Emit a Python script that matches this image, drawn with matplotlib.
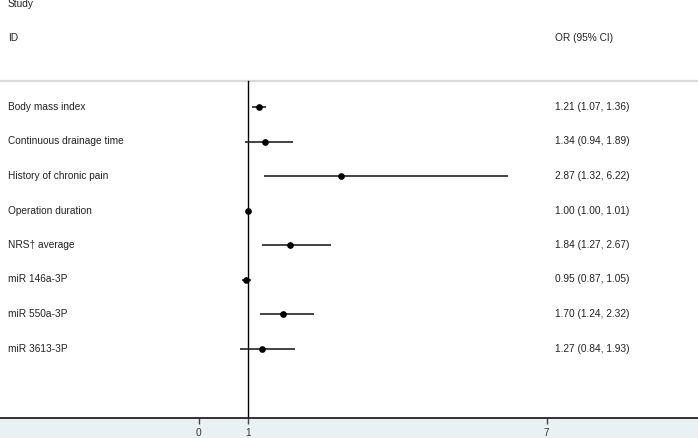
import matplotlib
matplotlib.use("Agg")
import matplotlib.pyplot as plt
from matplotlib.patches import Rectangle

plt.rcParams['font.family'] = ['Liberation Sans', 'DejaVu Sans']

names = ["Body mass index", "Continuous drainage time", "History of chronic pain",
         "Operation duration", "NRS\u2020 average", "miR 146a-3P", "miR 550a-3P", "miR 3613-3P"]
odds = [1.21, 1.34, 2.87, 1.00, 1.84, 0.95, 1.70, 1.27]
lows = [1.07, 0.94, 1.32, 1.00, 1.27, 0.87, 1.24, 0.84]
highs = [1.36, 1.89, 6.22, 1.01, 2.67, 1.05, 2.32, 1.93]
labels = ["1.21 (1.07, 1.36)", "1.34 (0.94, 1.89)", "2.87 (1.32, 6.22)", "1.00 (1.00, 1.01)",
          "1.84 (1.27, 2.67)", "0.95 (0.87, 1.05)", "1.70 (1.24, 2.32)", "1.27 (0.84, 1.93)"]
xticks = [0, 1, 7]

W, H = 698, 438
FS = 7.3
fig = plt.figure(figsize=(W / 100, H / 100), dpi=100)
fig.patch.set_facecolor('white')
bottom_px = 20
fig.add_artist(Rectangle((0, 0), 1, bottom_px / H, transform=fig.transFigure,
                         facecolor='#eaf1f3', edgecolor='none', zorder=0))

ax = fig.add_axes([0, bottom_px / H, 1, (H - bottom_px) / H])
ax.set_facecolor('none')
x0, scale = 198.6, 49.7
ax.set_xlim(-x0 / scale, (W - x0) / scale)
row0, step = 107, 34.5
ax.set_ylim((H - bottom_px - row0) / step, -row0 / step)

for s in ['top', 'left', 'right']:
    ax.spines[s].set_visible(False)
ax.spines['bottom'].set_color('#222222')
ax.spines['bottom'].set_linewidth(1.3)
ax.set_yticks([])
ax.set_xticks(xticks)
ax.set_xticklabels([str(t) for t in xticks])
ax.tick_params(axis='x', direction='out', length=4, width=1, color='#444444',
               labelsize=FS, labelcolor='#333333', pad=3.2)

top_row = (81 - row0) / step
ax.axhline(top_row, color='#d9d9d9', lw=1.6)
ax.plot([1, 1], [top_row, (H - bottom_px - row0) / step], color='black', lw=1.0)

for i, (o, lo, hi) in enumerate(zip(odds, lows, highs)):
    ax.plot([lo, hi], [i, i], color='#222222', lw=1.2, solid_capstyle='butt')
    ax.plot([o], [i], marker='o', ms=3.8, color='black', mec='black')
    ax.text(8 / W, i, names[i], transform=ax.get_yaxis_transform(), fontsize=FS,
            va='center', ha='left', color='#222222')
    ax.text(555 / W, i, labels[i], transform=ax.get_yaxis_transform(), fontsize=FS,
            va='center', ha='left', color='#222222')

ax.text(8 / W, (4 - row0) / step, "Study", transform=ax.get_yaxis_transform(), fontsize=FS,
        va='center', ha='left', color='#222222')
ax.text(8 / W, (38 - row0) / step, "ID", transform=ax.get_yaxis_transform(), fontsize=FS,
        va='center', ha='left', color='#222222')
ax.text(555 / W, (38 - row0) / step, "OR (95% CI)", transform=ax.get_yaxis_transform(),
        fontsize=FS, va='center', ha='left', color='#222222')

fig.savefig('out.png', dpi=100)
